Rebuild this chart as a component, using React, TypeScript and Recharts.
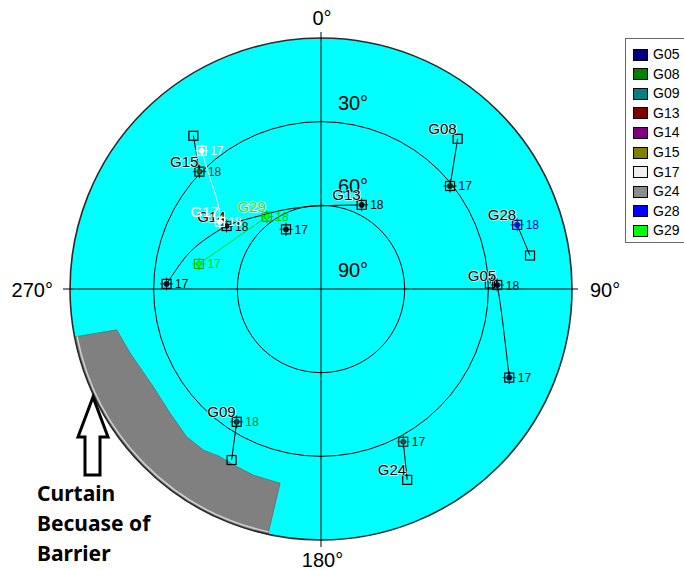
import React from "react";
import { ScatterChart, Scatter, XAxis, YAxis } from "recharts";

// [azimuth deg, elevation deg, mark]  mark: "17"/"18" hour mark, "end" open square, "" track only
type TrackPoint = [number, number, string];

const SATS = ["G05", "G08", "G09", "G13", "G14", "G15", "G17", "G24", "G28", "G29"];
const SAT_COLORS = ["#000080", "#008000", "#008080", "#800000", "#800080", "#808000", "#f0f0f0", "#8c8c8c", "#0000ff", "#00ff00"];

const TRACK_G05: TrackPoint[] = [[88.1, 29.4, "end"], [88.7, 26.8, "18"], [115.2, 15.4, "17"]];
const TRACK_G08: TrackPoint[] = [[42.3, 17.2, "end"], [51.4, 30.8, "17"]];
const TRACK_G09: TrackPoint[] = [[207.6, 20.8, "end"], [212.4, 33.6, "18"]];
const TRACK_G13: TrackPoint[] = [[329.6, 65.2, "17"], [25.8, 56.5, "18"]];
const TRACK_G14: TrackPoint[] = [
  [271.9, 34.6, "17"], [281.9, 39.5, ""], [290.7, 43.6, ""], [303.7, 49.3, "18"],
  [314.9, 54.1, ""], [334.5, 58.6, ""], [359.3, 60.2, ""], [23.0, 57.3, ""],
];
const TRACK_G15: TrackPoint[] = [[320.2, 18.5, "end"], [314.0, 29.4, "18"]];
const TRACK_G17: TrackPoint[] = [[319.2, 24.5, "17"], [314.1, 35.4, ""], [309.3, 42.4, ""], [303.6, 46.5, "18"]];
const TRACK_G24: TrackPoint[] = [[155.7, 14.9, "end"], [151.7, 27.8, "17"]];
const TRACK_G28: TrackPoint[] = [[80.9, 14.1, "end"], [71.9, 16.0, "18"]];
const TRACK_G29: TrackPoint[] = [[281.6, 45.3, "17"], [323.1, 57.6, "18"]];

const TRACKS: Record<string, TrackPoint[]> = {
  G05: TRACK_G05, G08: TRACK_G08, G09: TRACK_G09, G13: TRACK_G13, G14: TRACK_G14,
  G15: TRACK_G15, G17: TRACK_G17, G24: TRACK_G24, G28: TRACK_G28, G29: TRACK_G29,
};

// index of the track point that carries the satellite name
const NAME_AT: Record<string, number> = { G05: 1, G08: 0, G09: 1, G13: 1, G14: 3, G15: 1, G17: 3, G24: 0, G28: 1, G29: 1 };

// obstruction (inner edge az/el, then horizon span)
const CURTAIN_EDGE: [number, number][] = [
  [258.7, 15.3], [251.5, 17.8], [239.8, 20.4], [230.6, 19.9], [222.3, 18.4],
  [216.2, 18.5], [211.1, 19.8], [205.4, 19.5], [200.0, 19.0], [191.9, 18.8],
];
const CURTAIN_HORIZON = [192.2, 259.0];

const RING_ELEVATIONS = [0, 30, 60];
const ELEV_LABELS = [30, 60, 90];
const AZ_LABELS = [0, 90, 180, 270];

// styles
const FONT = "'Liberation Sans', Arial, sans-serif";
const LINE_COLOR: Record<string, string> = { G17: "#ffffff", G29: "#10d010" };
const MARK_STROKE: Record<string, string> = { G17: "#ffffff", G28: "#000060", G29: "#00b000", G24: "#222" };
const MARK_DOT: Record<string, string> = {
  G05: "#000040", G08: "#003000", G09: "#004848", G13: "#300000", G14: "#300030",
  G15: "#505000", G17: "#ffffff", G24: "#404040", G28: "#0000ff", G29: "#00ff00",
};
const HOUR_COLOR: Record<string, string> = { G09: "#007a3a", G15: "#3a3a00", G17: "#ffffff", G28: "#0000d0", G29: "#00d000" };
const NAME_COLOR: Record<string, string> = { G17: "#ffffff", G29: "#30e030" };
const AZ_LABEL_POS: Record<number, { dx: number; dy: number; anchor: "start" | "middle" | "end" }> = {
  0: { dx: 1, dy: -13, anchor: "middle" },
  90: { dx: 18, dy: 8, anchor: "start" },
  180: { dx: 1.5, dy: 27, anchor: "middle" },
  270: { dx: -17, dy: 8, anchor: "end" },
};

const toXY = (az: number, el: number) => {
  const zd = 90 - el;
  const a = (az * Math.PI) / 180;
  return { x: zd * Math.sin(a), y: zd * Math.cos(a) };
};

const diskData = [toXY(0, 90), toXY(90, 0)];
const gridData = [
  { ...toXY(0, 90), kind: "center" },
  ...RING_ELEVATIONS.map((el) => ({ ...toXY(90, el), kind: "ring" })),
  ...ELEV_LABELS.map((el) => ({ ...toXY(0, el), kind: "elev", text: `${el}°` })),
  ...AZ_LABELS.map((az) => ({ ...toXY(az, 0), kind: "az", az, text: `${az}°` })),
];
const curtainData = [
  ...CURTAIN_EDGE.map(([az, el]) => toXY(az, el)),
  ...CURTAIN_HORIZON.map((az) => toXY(az, 0)),
  toXY(0, 90),
];

const drawDisk = (p: any) => {
  const [c, h] = p.points;
  const r = Math.hypot(h.x - c.x, h.y - c.y);
  return <circle cx={c.x} cy={c.y} r={r} fill="#00ffff" stroke="none" />;
};

const drawCurtain = (p: any) => {
  const pts = p.points;
  const c = pts[pts.length - 1];
  const a = pts[pts.length - 3];
  const b = pts[pts.length - 2];
  const r = Math.hypot(a.x - c.x, a.y - c.y);
  const edge = pts.slice(0, pts.length - 3);
  const d = "M" + edge.map((q: any) => `${q.x},${q.y}`).join("L") + `L${a.x},${a.y}A${r},${r} 0 0 1 ${b.x},${b.y}Z`;
  const r2 = r - 2.5;
  const angA = Math.atan2(a.y - c.y, a.x - c.x);
  const angB = Math.atan2(b.y - c.y, b.x - c.x);
  const hl = `M${c.x + r2 * Math.cos(angA)},${c.y + r2 * Math.sin(angA)}A${r2},${r2} 0 0 1 ${c.x + r2 * Math.cos(angB)},${c.y + r2 * Math.sin(angB)}`;
  return (
    <g>
      <path d={d} fill="#808080" stroke="#6a6a6a" strokeWidth={0.8} />
      <path d={hl} fill="none" stroke="#d0d0d0" strokeWidth={1.5} />
    </g>
  );
};

const drawGrid = (p: any) => {
  const pts = p.points;
  const c = pts[0];
  const radii = pts.slice(1, 1 + RING_ELEVATIONS.length).map((q: any) => Math.hypot(q.x - c.x, q.y - c.y));
  const R = radii[0];
  return (
    <g>
      {radii.map((r: number, i: number) => (
        <circle key={i} cx={c.x} cy={c.y} r={r} fill="none" stroke={i === 0 ? "#2a2a2a" : "#000"} strokeWidth={i === 0 ? 1.6 : 1} />
      ))}
      <line x1={c.x} y1={c.y - R - 6} x2={c.x} y2={c.y + R + 7} stroke="#000" strokeWidth={1} />
      <line x1={c.x - R - 7} y1={c.y} x2={c.x + R + 6} y2={c.y} stroke="#000" strokeWidth={1} />
    </g>
  );
};

const gridShape = (p: any) => {
  const { cx, cy, payload } = p;
  if (payload.kind === "elev") {
    return (
      <text x={cx + 32} y={cy - 12} textAnchor="middle" fontSize={20} fontFamily={FONT} fill="#000">
        {payload.text}
      </text>
    );
  }
  if (payload.kind === "az") {
    const pos = AZ_LABEL_POS[payload.az];
    return (
      <text x={cx + pos.dx} y={cy + pos.dy} textAnchor={pos.anchor} fontSize={20} fontFamily={FONT} fill="#000">
        {payload.text}
      </text>
    );
  }
  return <g />;
};

const satShape = (p: any) => {
  const { cx, cy, payload } = p;
  const s: string = payload.sat;
  const stroke = MARK_STROKE[s] ?? "#000";
  let mark: React.ReactNode = null;
  if (payload.tag === "end") {
    mark = <rect x={cx - 4.5} y={cy - 4.5} width={9} height={9} fill="none" stroke={s === "G17" ? "#fff" : "#000"} strokeWidth={1.2} />;
  } else if (payload.tag) {
    mark = (
      <g>
        <rect x={cx - 4.5} y={cy - 4.5} width={9} height={9} fill="none" stroke={stroke} strokeWidth={1.2} />
        <circle cx={cx} cy={cy} r={2.6} fill={MARK_DOT[s]} stroke={stroke} strokeWidth={0.6} />
        <path
          d={`M${cx - 6.5},${cy}H${cx - 2.6}M${cx + 2.6},${cy}H${cx + 6.5}M${cx},${cy - 6.5}V${cy - 2.6}M${cx},${cy + 2.6}V${cy + 6.5}`}
          stroke={stroke}
          strokeWidth={0.8}
        />
        <text x={cx + 8.5} y={cy + 4.5} fontSize={12} fontFamily={FONT} fill={HOUR_COLOR[s] ?? "#000"}>
          {payload.tag}
        </text>
      </g>
    );
  }
  return (
    <g>
      {mark}
      {payload.named && (
        <text
          x={cx - 1}
          y={cy - 4.5}
          textAnchor="end"
          fontSize={15}
          fontFamily={FONT}
          fill={NAME_COLOR[s] ?? "#000"}
          stroke={s === "G17" ? "#c8c8c8" : "#ffffff"}
          strokeWidth={s === "G17" ? 0.6 : 1.6}
          strokeOpacity={0.8}
          paintOrder="stroke"
        >
          {s}
        </text>
      )}
    </g>
  );
};

export default function App() {
  return (
    <div style={{ position: "fixed", left: 0, top: 0, width: 684, height: 570, overflow: "hidden", background: "#fff" }}>
      <ScatterChart width={684} height={570} margin={{ top: 10.111, right: 84.111, bottom: 2.111, left: 42.111 }}>
        <XAxis type="number" dataKey="x" domain={[-100, 100]} hide />
        <YAxis type="number" dataKey="y" domain={[-100, 100]} hide />
        <Scatter data={diskData} line={drawDisk} shape={() => <g />} isAnimationActive={false} />
        <Scatter data={curtainData} line={drawCurtain} shape={() => <g />} isAnimationActive={false} />
        <Scatter data={gridData} line={drawGrid} shape={gridShape} isAnimationActive={false} />
        {SATS.map((s) => (
          <Scatter
            key={s}
            name={s}
            data={TRACKS[s].map(([az, el, tag], j) => ({ ...toXY(az, el), tag, sat: s, named: j === NAME_AT[s] }))}
            fill={LINE_COLOR[s] ?? "#000"}
            line={s === "G13" ? false : { stroke: LINE_COLOR[s] ?? "#000", strokeWidth: 1 }}
            lineJointType="natural"
            shape={satShape}
            isAnimationActive={false}
          />
        ))}
      </ScatterChart>

      <div
        style={{
          position: "absolute", left: 625, top: 38, width: 80, height: 205,
          border: "1px solid #666", background: "#fff", boxSizing: "border-box",
        }}
      >
        {SATS.map((s, i) => (
          <div key={s} style={{ position: "absolute", left: 7, top: 9 + i * 19.6, height: 13, display: "flex", alignItems: "center" }}>
            <span style={{ width: 15, height: 12, background: SAT_COLORS[i], border: "1px solid #000", boxSizing: "border-box" }} />
            <span style={{ marginLeft: 5, fontSize: 14, fontFamily: FONT, lineHeight: "13px", color: "#000" }}>{s}</span>
          </div>
        ))}
      </div>

      <svg width={684} height={570} style={{ position: "absolute", left: 0, top: 0, pointerEvents: "none" }}>
        <polygon
          points="93,397 108,437 100,437 100,475 85,475 85,437 78,437"
          fill="#fff"
          stroke="#000"
          strokeWidth={3}
          strokeLinejoin="miter"
        />
        <g fontFamily="'Noto Sans', sans-serif" fontWeight="bold" fontSize={21} fill="#000">
          <text x={37} y={501}>Curtain</text>
          <text x={37} y={531}>Becuase of</text>
          <text x={37} y={561}>Barrier</text>
        </g>
      </svg>
    </div>
  );
}
